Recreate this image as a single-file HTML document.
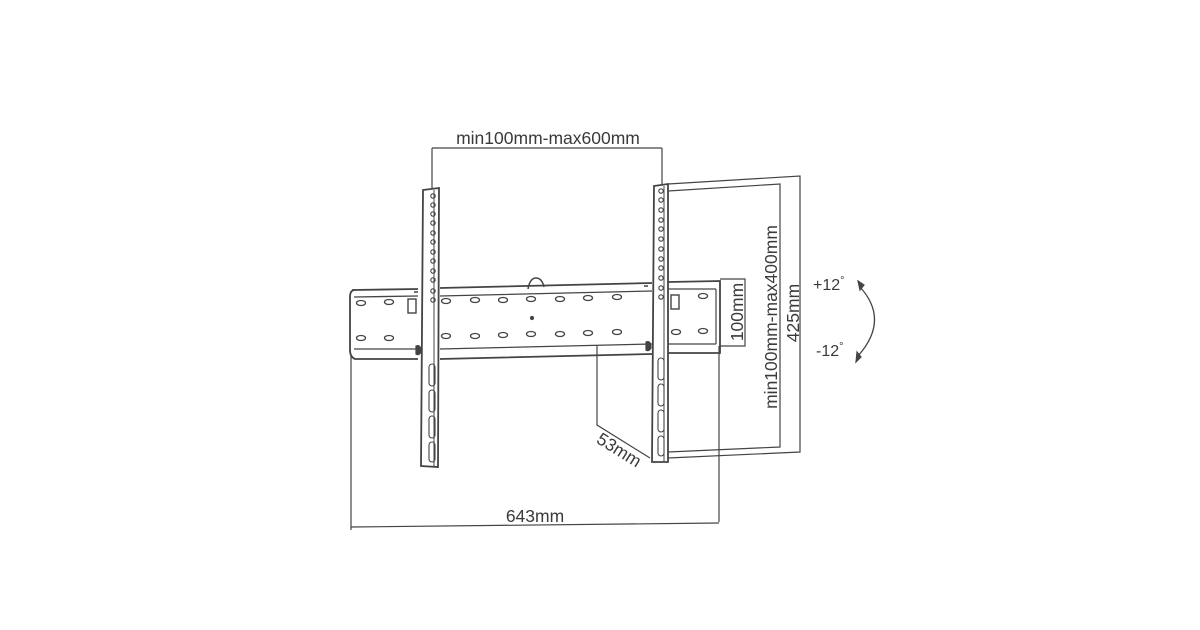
<!DOCTYPE html>
<html><head><style>
html,body{margin:0;padding:0;background:#fff;width:1200px;height:630px;overflow:hidden}
svg{display:block}
text{font-family:"Liberation Sans","DejaVu Sans",sans-serif;fill:#3a3a3a}
</style></head><body>
<svg width="1200" height="630" viewBox="0 0 1200 630" xmlns="http://www.w3.org/2000/svg">
<g stroke="#444" fill="none" stroke-width="1.2">
<line x1="432" y1="148" x2="662" y2="148"/>
<line x1="432" y1="148" x2="432" y2="189"/>
<line x1="662" y1="148" x2="662" y2="184"/>
<polyline points="668,184 800,176 800,452 668,458"/>
<polyline points="668,191 780,184 780,447 668,452"/>
<polyline points="720,279 745,279 745,346 720,346"/>
<path d="M352,290 L418,289 M440,288 L652,283 M668,282 L720,281 L720,353 L668,353 M652,354 L440,359 M418,359 L355,359 Q350,357 350,350 L350,297 Q350,290 355,290" stroke-width="1.8"/>
<path d="M354,297 L418,296 M440,296 L652,291 M668,289 L716,289 M354,349 L418,349 M440,349 L652,344 M668,344 L716,344" stroke-width="1.3"/>
<path d="M716,289 L716,344" />
<path d="M528,289 Q530,278 536,278 Q542,278 544,287" stroke-width="1.5"/>
<circle cx="532" cy="318" r="1.5" fill="#444"/>
<g stroke-width="1.3">
<ellipse cx="361" cy="303" rx="4.5" ry="2.5"/><ellipse cx="389" cy="302" rx="4.5" ry="2.5"/>
<ellipse cx="446" cy="301" rx="4.5" ry="2.5"/><ellipse cx="475" cy="300" rx="4.5" ry="2.5"/>
<ellipse cx="503" cy="300" rx="4.5" ry="2.5"/><ellipse cx="531" cy="299" rx="4.5" ry="2.5"/>
<ellipse cx="560" cy="299" rx="4.5" ry="2.5"/><ellipse cx="588" cy="298" rx="4.5" ry="2.5"/>
<ellipse cx="617" cy="297" rx="4.5" ry="2.5"/><ellipse cx="703" cy="296" rx="4.5" ry="2.5"/>
<ellipse cx="361" cy="338" rx="4.5" ry="2.5"/><ellipse cx="389" cy="338" rx="4.5" ry="2.5"/>
<ellipse cx="446" cy="336" rx="4.5" ry="2.5"/><ellipse cx="475" cy="336" rx="4.5" ry="2.5"/>
<ellipse cx="503" cy="335" rx="4.5" ry="2.5"/><ellipse cx="531" cy="334" rx="4.5" ry="2.5"/>
<ellipse cx="560" cy="334" rx="4.5" ry="2.5"/><ellipse cx="588" cy="333" rx="4.5" ry="2.5"/>
<ellipse cx="617" cy="332" rx="4.5" ry="2.5"/><ellipse cx="676" cy="332" rx="4.5" ry="2.5"/>
<ellipse cx="703" cy="331" rx="4.5" ry="2.5"/>
</g>
<path d="M423,190 L439,188 L438,467 L421,466 Z" fill="#fff" stroke-width="1.8"/>
<line x1="434" y1="190" x2="434" y2="466" stroke-width="1"/>
<path d="M654,186 L668,184 L668,462 L652,462 Z" fill="#fff" stroke-width="1.8"/>
<line x1="664" y1="186" x2="664" y2="462" stroke-width="1"/>
<rect x="408" y="299" width="8" height="14" stroke-width="1.4"/>
<rect x="671" y="295" width="8" height="14" stroke-width="1.4"/>
<path d="M416,346 Q421,344 421,352 Q419,356 416,354 Z" fill="#444"/>
<path d="M646,342 Q651,340 651,348 Q649,352 646,350 Z" fill="#444"/>
<path d="M414,292 L418,292 M644,286 L648,286" stroke-width="1.5"/>
<polyline points="597,346 597,425 650,458"/>
<line x1="351" y1="355" x2="351" y2="530"/>
<line x1="719" y1="346" x2="719" y2="522"/>
<line x1="351" y1="527" x2="719" y2="523"/>
<path d="M860,287 Q890,320 858,356" stroke-width="1.3"/>
<path d="M858,281 L860,290 L864,285 Z M856,362 L857,352 L861,357 Z" fill="#444"/>
</g>
<g stroke="#444" fill="none" stroke-width="1.1">
<circle cx="433" cy="196" r="2.2"/><circle cx="433" cy="205" r="2.2"/><circle cx="433" cy="214" r="2.2"/><circle cx="433" cy="223" r="2.2"/><circle cx="433" cy="233" r="2.2"/><circle cx="433" cy="242" r="2.2"/><circle cx="433" cy="252" r="2.2"/><circle cx="433" cy="261" r="2.2"/><circle cx="433" cy="271" r="2.2"/><circle cx="433" cy="280" r="2.2"/><circle cx="433" cy="291" r="2.2"/><circle cx="433" cy="300" r="2.2"/>
<circle cx="661" cy="191" r="2.2"/><circle cx="661" cy="200" r="2.2"/><circle cx="661" cy="210" r="2.2"/><circle cx="661" cy="220" r="2.2"/><circle cx="661" cy="229" r="2.2"/><circle cx="661" cy="239" r="2.2"/><circle cx="661" cy="249" r="2.2"/><circle cx="661" cy="259" r="2.2"/><circle cx="661" cy="268" r="2.2"/><circle cx="661" cy="278" r="2.2"/><circle cx="661" cy="288" r="2.2"/><circle cx="661" cy="297" r="2.2"/>
<rect x="429" y="364" width="6" height="22" rx="3"/><rect x="429" y="390" width="6" height="22" rx="3"/><rect x="429" y="416" width="6" height="22" rx="3"/><rect x="429" y="442" width="6" height="20" rx="3"/>
<rect x="658" y="358" width="6" height="22" rx="3"/><rect x="658" y="384" width="6" height="22" rx="3"/><rect x="658" y="410" width="6" height="22" rx="3"/><rect x="658" y="436" width="6" height="20" rx="3"/>
</g>
<text x="548" y="144" font-size="17.5" text-anchor="middle">min100mm-max600mm</text>
<text x="535" y="522" font-size="17.5" text-anchor="middle">643mm</text>
<text transform="translate(616,455) rotate(32)" font-size="17.5" text-anchor="middle">53mm</text>
<text transform="translate(743,312) rotate(-90)" font-size="17.5" text-anchor="middle">100mm</text>
<text transform="translate(777,317) rotate(-90)" font-size="17.5" text-anchor="middle">min100mm-max400mm</text>
<text transform="translate(799,313) rotate(-90)" font-size="17.5" text-anchor="middle">425mm</text>
<text x="813" y="290" font-size="16">+12<tspan font-size="11" dy="-6">°</tspan></text>
<text x="816" y="356" font-size="16">-12<tspan font-size="11" dy="-6">°</tspan></text>
</svg>
</body></html>
